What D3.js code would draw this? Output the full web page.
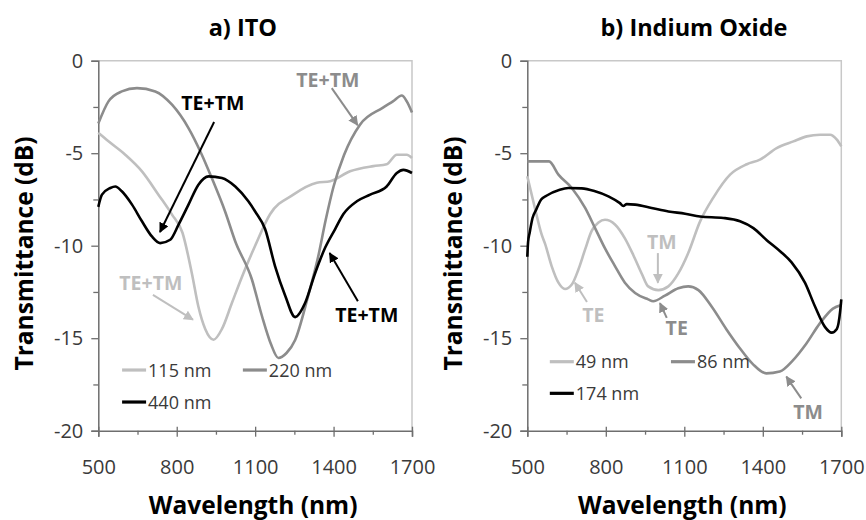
<!DOCTYPE html>
<html>
<head>
<meta charset="utf-8">
<script src="https://cdn.jsdelivr.net/npm/d3@7"></script>
<style>
  body { margin: 0; background: #fff; }
  svg { display: block; }
</style>
</head>
<body>
<svg id="chart" width="866" height="520"></svg>
<script>
// ---- axis ticks ----
const xTicks = [500, 800, 1100, 1400, 1700];
const xMinor = [650, 950, 1250, 1550];
const yTicks = [0, -5, -10, -15, -20];
const yMinor = [-2.5, -7.5, -12.5, -17.5];

// ---- a) ITO : transmittance (dB) vs wavelength (nm) ----
const ito115 = [[500,-3.9],[539,-4.36],[603,-5.08],[667,-5.98],[730,-7.24],[782,-8.32],[822,-9.3],[858,-11.5],[883,-13.3],[909,-14.5],[941,-15.08],[973,-14.5],[1011,-13.1],[1049,-11.7],[1100,-10.0],[1157,-8.3],[1246,-7.24],[1336,-6.6],[1387,-6.52],[1463,-5.98],[1552,-5.7],[1603,-5.6],[1642,-5.08],[1680,-5.08],[1700,-5.26]];
const ito220 = [[500,-3.4],[539,-2.2],[590,-1.66],[648,-1.48],[718,-1.66],[782,-2.38],[845,-3.64],[896,-5.08],[934,-6.34],[985,-8.15],[1024,-9.77],[1087,-11.8],[1126,-13.8],[1160,-15.3],[1189,-16.07],[1220,-15.8],[1253,-15.1],[1303,-12.7],[1341,-10.6],[1370,-8.6],[1400,-6.8],[1440,-5.1],[1501,-3.46],[1589,-2.54],[1627,-2.2],[1661,-1.88],[1680,-2.2],[1700,-2.8]];
const ito440 = [[500,-7.9],[514,-7.24],[546,-6.88],[565,-6.8],[590,-7.06],[629,-7.78],[667,-8.68],[705,-9.5],[737,-9.86],[775,-9.68],[807,-8.86],[845,-7.78],[883,-6.7],[922,-6.25],[973,-6.34],[1024,-6.8],[1074,-7.6],[1100,-8.15],[1138,-9.1],[1176,-11.1],[1215,-12.7],[1253,-13.86],[1291,-13.1],[1329,-11.5],[1368,-10.1],[1406,-9.1],[1437,-8.3],[1489,-7.6],[1540,-7.24],[1603,-6.8],[1642,-6.07],[1667,-5.9],[1700,-6.07]];

// ---- b) Indium Oxide ----
const io49 = [[500,-6.25],[529,-7.96],[555,-9.4],[568,-9.9],[593,-11.1],[619,-12.0],[644,-12.34],[670,-12.1],[695,-11.3],[721,-10.2],[746,-9.2],[772,-8.75],[797,-8.6],[835,-8.85],[873,-9.6],[905,-10.5],[937,-11.5],[962,-12.2],[1001,-12.4],[1039,-12.2],[1077,-11.5],[1115,-10.4],[1160,-8.7],[1211,-7.4],[1275,-6.16],[1339,-5.6],[1389,-5.35],[1453,-4.72],[1517,-4.36],[1568,-4.09],[1619,-4.0],[1657,-4.0],[1683,-4.27],[1700,-4.63]];
const io86 = [[500,-5.44],[583,-5.44],[619,-6.16],[670,-6.88],[721,-7.96],[759,-9.05],[797,-10.15],[835,-11.1],[873,-12.0],[912,-12.56],[962,-12.9],[981,-13.0],[1026,-12.7],[1077,-12.3],[1115,-12.2],[1154,-12.4],[1205,-13.3],[1260,-14.5],[1310,-15.5],[1362,-16.4],[1413,-16.9],[1465,-16.8],[1515,-16.2],[1566,-15.3],[1618,-14.2],[1668,-13.4],[1700,-13.2]];
const io174 = [[500,-10.6],[503,-9.8],[509,-9.3],[520,-8.5],[534,-8.05],[553,-7.5],[573,-7.3],[624,-6.97],[657,-6.88],[708,-6.9],[759,-7.06],[810,-7.33],[854,-7.7],[867,-7.85],[880,-7.75],[912,-7.78],[975,-7.96],[1039,-8.15],[1103,-8.27],[1160,-8.42],[1249,-8.5],[1313,-8.68],[1364,-9.05],[1415,-9.7],[1466,-10.3],[1510,-10.9],[1561,-12.0],[1600,-13.3],[1638,-14.4],[1663,-14.7],[1683,-14.5],[1696,-13.5],[1700,-12.9]];

const LIGHT = "#bfbfbf", MID = "#8c8c8c", DARK = "#000000";
const FONT = "'Open Sans', 'DejaVu Sans', sans-serif";

const panels = [
  {
    title: "a) ITO", titleAt: 1053, left: 98.3, right: 412,
    series: [
      { name: "115 nm", data: ito115, color: LIGHT },
      { name: "220 nm", data: ito220, color: MID },
      { name: "440 nm", data: ito440, color: DARK }
    ],
    // legend rows: [x-start (nm), level (dB)]
    legendPos: [[591, -16.72], [1053, -16.72], [591, -18.45]],
    notes: [
      { text: "TE+TM", color: DARK,  at: [938, -2.29],  from: [943, -3.31],  to: [736, -9.26] },
      { text: "TE+TM", color: MID,   at: [1378, -1.04], from: [1393, -1.48], to: [1492, -3.48] },
      { text: "TE+TM", color: LIGHT, at: [701, -12.0],  from: [709, -12.66], to: [862, -14.0] },
      { text: "TE+TM", color: DARK,  at: [1527, -13.74], from: [1493, -13.0], to: [1385, -10.4] }
    ]
  },
  {
    title: "b) Indium Oxide", titleAt: 1137, left: 527.3, right: 841.3,
    series: [
      { name: "49 nm",  data: io49,  color: LIGHT },
      { name: "86 nm",  data: io86,  color: MID },
      { name: "174 nm", data: io174, color: DARK }
    ],
    legendPos: [[586, -16.27], [1049, -16.27], [586, -17.98]],
    notes: [
      { text: "TM", color: LIGHT, at: [1014, -9.78],  from: [999, -10.4],  to: [999, -12.0] },
      { text: "TE", color: LIGHT, at: [752, -13.75],  from: [728, -13.04], to: [682, -12.0] },
      { text: "TE", color: MID,   at: [1071, -14.46], from: [1033, -13.9], to: [1007, -13.1] },
      { text: "TM", color: MID,   at: [1573, -18.97], from: [1547, -18.25], to: [1490, -17.08] }
    ]
  }
];

const svg = d3.select("#chart");
const plotTop = 60.7, plotBottom = 430.7;

// arrowheads, one per colour
const defs = svg.append("defs");
[["dark", DARK], ["mid", MID], ["light", LIGHT]].forEach(([id, c]) => {
  defs.append("marker")
    .attr("id", "arrow-" + id)
    .attr("viewBox", "0 0 10 10")
    .attr("refX", 9).attr("refY", 5)
    .attr("markerUnits", "userSpaceOnUse")
    .attr("markerWidth", 10).attr("markerHeight", 10)
    .attr("orient", "auto")
    .append("path").attr("d", "M0,0 L10,5 L0,10 Z").attr("fill", c);
});
const markerFor = c => c === DARK ? "url(#arrow-dark)" : c === MID ? "url(#arrow-mid)" : "url(#arrow-light)";

panels.forEach(p => {
  const x = d3.scaleLinear().domain([500, 1700]).range([p.left, p.right]);
  const y = d3.scaleLinear().domain([-20, 0]).range([plotBottom, plotTop]);
  const g = svg.append("g");

  // plot frame (top and right)
  g.append("path")
    .attr("d", `M${p.left},${plotTop} H${p.right} V${plotBottom}`)
    .attr("fill", "none").attr("stroke", "#c8c8c8").attr("stroke-width", 1.5);

  // y axis
  g.append("g").attr("transform", `translate(${p.left},0)`)
    .call(d3.axisLeft(y).tickValues(yTicks).tickSize(7).tickPadding(8).tickFormat(d => String(d)));
  g.append("g").attr("transform", `translate(${p.left},0)`)
    .call(d3.axisLeft(y).tickValues(yMinor).tickSize(5).tickFormat(""))
    .call(a => a.select(".domain").remove());

  // x axis
  const xAx = g.append("g").attr("transform", `translate(0,${plotBottom})`)
    .call(d3.axisBottom(x).tickValues(xTicks).tickSize(6).tickPadding(23).tickFormat(d => String(d)));
  xAx.selectAll(".tick line").attr("y1", -4);
  g.append("g").attr("transform", `translate(0,${plotBottom})`)
    .call(d3.axisBottom(x).tickValues(xMinor).tickSize(4).tickFormat(""))
    .call(a => a.select(".domain").remove());

  g.selectAll(".domain").attr("stroke", "#6e6e6e").attr("stroke-width", 1.5);
  g.selectAll(".tick line").attr("stroke", "#6e6e6e").attr("stroke-width", 1.3);
  g.selectAll(".tick text").attr("font-family", FONT).attr("font-size", 20).attr("fill", "#3a3a3a");

  // series lines
  const line = d3.line().x(d => x(d[0])).y(d => y(d[1])).curve(d3.curveMonotoneX);
  p.series.forEach(s => {
    g.append("path").datum(s.data)
      .attr("d", line)
      .attr("fill", "none")
      .attr("stroke", s.color)
      .attr("stroke-width", 2.6)
      .attr("stroke-linejoin", "round");
  });

  // legend
  p.series.forEach((s, i) => {
    const [lx, ly] = p.legendPos[i];
    const x0 = x(lx), yy = y(ly);
    g.append("line").attr("x1", x0).attr("x2", x0 + 24).attr("y1", yy).attr("y2", yy)
      .attr("stroke", s.color).attr("stroke-width", 3.2);
    g.append("text").attr("x", x0 + 26).attr("y", yy).attr("dy", "0.36em")
      .attr("font-family", FONT).attr("font-size", 18).attr("fill", "#3a3a3a")
      .text(s.name);
  });

  // annotations with arrows
  p.notes.forEach(n => {
    g.append("line")
      .attr("x1", x(n.from[0])).attr("y1", y(n.from[1]))
      .attr("x2", x(n.to[0])).attr("y2", y(n.to[1]))
      .attr("stroke", n.color).attr("stroke-width", 2)
      .attr("marker-end", markerFor(n.color));
    g.append("text")
      .attr("x", x(n.at[0])).attr("y", y(n.at[1])).attr("dy", "0.36em")
      .attr("text-anchor", "middle")
      .attr("font-family", FONT).attr("font-weight", 700).attr("font-size", 19.5)
      .attr("fill", n.color)
      .text(n.text);
  });

  // panel title
  const cx = (p.left + p.right) / 2;
  g.append("text").attr("x", x(p.titleAt)).attr("y", 36).attr("text-anchor", "middle")
    .attr("font-family", FONT).attr("font-weight", 700).attr("font-size", 23.5)
    .text(p.title);

  // axis titles
  g.append("text").attr("x", cx - 2).attr("y", 514).attr("text-anchor", "middle")
    .attr("font-family", FONT).attr("font-weight", 700).attr("font-size", 24.5)
    .text("Wavelength (nm)");
  g.append("text")
    .attr("transform", `translate(${p.left - 74},253.5) rotate(-90)`)
    .attr("text-anchor", "middle").attr("dy", "0.35em")
    .attr("font-family", FONT).attr("font-weight", 700).attr("font-size", 24.5)
    .text("Transmittance (dB)");
});
</script>
</body>
</html>
